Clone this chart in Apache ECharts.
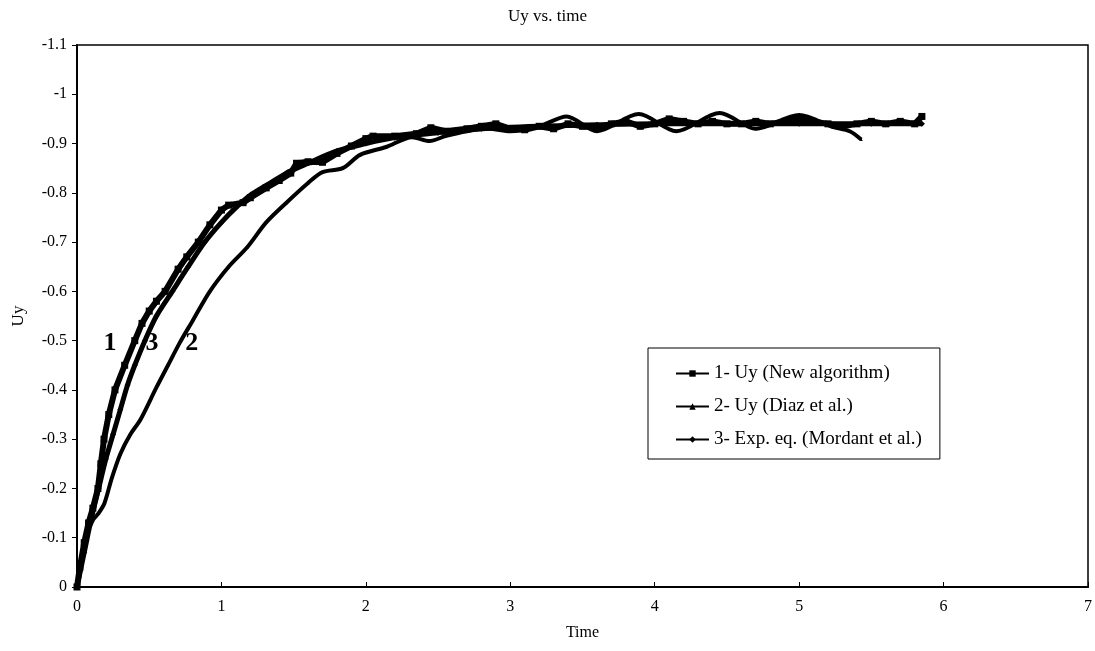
<!DOCTYPE html>
<html>
<head>
<meta charset="utf-8">
<script src="https://cdn.jsdelivr.net/npm/echarts@6/dist/echarts.min.js"></script>
<style>html,body{margin:0;padding:0;background:#fff}#c{width:1095px;height:651px}</style>
</head>
<body>
<div id="c"></div>
<script>
// Series 1: Uy (New algorithm)  [time, Uy]
const newAlgT = [0,0.02,0.05,0.08,0.11,0.145,0.165,0.187,0.22,0.263,0.33,0.40,0.45,0.5,0.55,0.61,0.7,0.76,0.84,0.92,1.0,1.05,1.15,1.2,1.31,1.4,1.48,1.52,1.6,1.7,1.8,1.9,2.0,2.05,2.2,2.35,2.45,2.55,2.7,2.8,2.9,3.0,3.1,3.2,3.3,3.4,3.5,3.6,3.7,3.8,3.9,4.0,4.1,4.2,4.3,4.4,4.5,4.6,4.7,4.8,4.9,5.0,5.1,5.2,5.3,5.4,5.5,5.6,5.7,5.8,5.85];
const newAlgU = [0,-0.04,-0.09,-0.13,-0.16,-0.2,-0.25,-0.3,-0.35,-0.4,-0.45,-0.5,-0.535,-0.56,-0.58,-0.6,-0.645,-0.67,-0.7,-0.735,-0.765,-0.775,-0.78,-0.79,-0.81,-0.825,-0.84,-0.86,-0.863,-0.862,-0.88,-0.895,-0.91,-0.915,-0.915,-0.92,-0.932,-0.925,-0.93,-0.935,-0.94,-0.93,-0.928,-0.935,-0.93,-0.94,-0.935,-0.932,-0.94,-0.945,-0.935,-0.94,-0.95,-0.945,-0.94,-0.945,-0.94,-0.94,-0.945,-0.94,-0.945,-0.95,-0.945,-0.94,-0.935,-0.94,-0.945,-0.94,-0.945,-0.94,-0.955];
// Series 2: Uy (Diaz et al.)
const diazT = [0,0.03,0.06,0.11,0.15,0.19,0.24,0.30,0.37,0.44,0.55,0.63,0.71,0.8,0.92,1.05,1.18,1.31,1.45,1.6,1.7,1.84,1.96,2.14,2.32,2.44,2.55,2.7,2.85,3.0,3.2,3.39,3.6,3.89,4.15,4.45,4.7,5.0,5.23,5.35,5.43];
const diazU = [0,-0.05,-0.1,-0.136,-0.15,-0.17,-0.22,-0.27,-0.31,-0.34,-0.405,-0.45,-0.495,-0.54,-0.6,-0.65,-0.69,-0.74,-0.78,-0.82,-0.842,-0.85,-0.877,-0.893,-0.913,-0.905,-0.915,-0.925,-0.93,-0.925,-0.935,-0.955,-0.925,-0.96,-0.925,-0.962,-0.93,-0.958,-0.934,-0.925,-0.908];
// Series 3: Exp. eq. (Mordant et al.)
const expT = [0,0.05,0.1,0.15,0.2,0.25,0.3,0.35,0.4,0.47,0.55,0.66,0.77,0.885,1.0,1.1,1.2,1.31,1.45,1.6,1.8,2.0,2.2,2.5,2.8,3.2,3.6,4.0,4.5,5.0,5.5,5.85];
const expU = [0,-0.07,-0.14,-0.2,-0.26,-0.31,-0.36,-0.41,-0.45,-0.5,-0.55,-0.6,-0.65,-0.7,-0.74,-0.77,-0.795,-0.815,-0.84,-0.86,-0.885,-0.9,-0.912,-0.922,-0.93,-0.935,-0.938,-0.94,-0.94,-0.94,-0.94,-0.94];
// Curve labels
const annoText = ['1','3','2'];
const annoT = [0.228,0.519,0.795];
const annoU = [-0.495,-0.495,-0.495];
const seriesNames = ['1- Uy (New algorithm)','2- Uy (Diaz et al.)','3- Exp. eq. (Mordant et al.)'];

const zip = (a,b) => a.map((v,i)=>[v,b[i]]);
const font = 'Liberation Serif';
const chart = echarts.init(document.getElementById('c'), null, {renderer:'canvas'});
chart.setOption({
  animation:false,
  backgroundColor:'#fff',
  title:{text:'Uy vs. time',left:'center',top:3,textStyle:{fontFamily:font,fontWeight:'normal',fontSize:17,color:'#000'}},
  grid:{left:77,right:6,top:45,bottom:64,show:true,borderColor:'#000',borderWidth:1.5,backgroundColor:'transparent'},
  legend:{
    data:seriesNames, orient:'vertical', left:648, top:348,
    padding:[16,18,10,27], itemGap:14, itemWidth:33, itemHeight:8,
    borderColor:'#000', borderWidth:1, backgroundColor:'#fff',
    textStyle:{fontFamily:font,fontSize:19,color:'#000'},
    lineStyle:{width:2}
  },
  xAxis:{type:'value',min:0,max:7,interval:1,name:'Time',nameLocation:'middle',nameGap:38,
    nameTextStyle:{fontFamily:font,fontSize:16,color:'#000'},
    axisLine:{lineStyle:{color:'#000',width:2}},axisTick:{inside:true,length:5,lineStyle:{color:'#000'}},
    axisLabel:{fontFamily:font,fontSize:16,color:'#000',margin:12},splitLine:{show:false}},
  yAxis:{type:'value',inverse:true,min:-1.1,max:0,interval:0.1,name:'Uy',nameLocation:'middle',nameGap:50,nameRotate:90,
    nameTextStyle:{fontFamily:font,fontSize:17,color:'#000'},
    axisLine:{lineStyle:{color:'#000',width:2}},axisTick:{inside:false,length:5,lineStyle:{color:'#000'}},
    axisLabel:{fontFamily:font,fontSize:16,color:'#000',margin:10,formatter:v=>String(Math.round(v*10)/10)},splitLine:{show:false}},
  series:[
    {name:seriesNames[0],type:'line',data:zip(newAlgT,newAlgU),symbol:'rect',symbolSize:7,showAllSymbol:true,
      lineStyle:{color:'#000',width:6},itemStyle:{color:'#000'},z:3},
    {name:seriesNames[1],type:'line',data:zip(diazT,diazU),symbol:'triangle',symbolSize:3,showAllSymbol:true,smooth:0.3,
      lineStyle:{color:'#000',width:4},itemStyle:{color:'#000'},z:2,
      markPoint:{symbol:'circle',symbolSize:1,itemStyle:{color:'transparent'},
        label:{show:true,position:'inside',fontFamily:font,fontWeight:'bold',fontSize:26,color:'#000',formatter:p=>p.name},
        data:annoText.map((t,i)=>({name:t,coord:[annoT[i],annoU[i]]}))}},
    {name:seriesNames[2],type:'line',data:zip(expT,expU),symbol:'diamond',symbolSize:6,showAllSymbol:true,smooth:0.3,
      lineStyle:{color:'#000',width:5},itemStyle:{color:'#000'},z:2}
  ]
});
</script>
</body>
</html>
